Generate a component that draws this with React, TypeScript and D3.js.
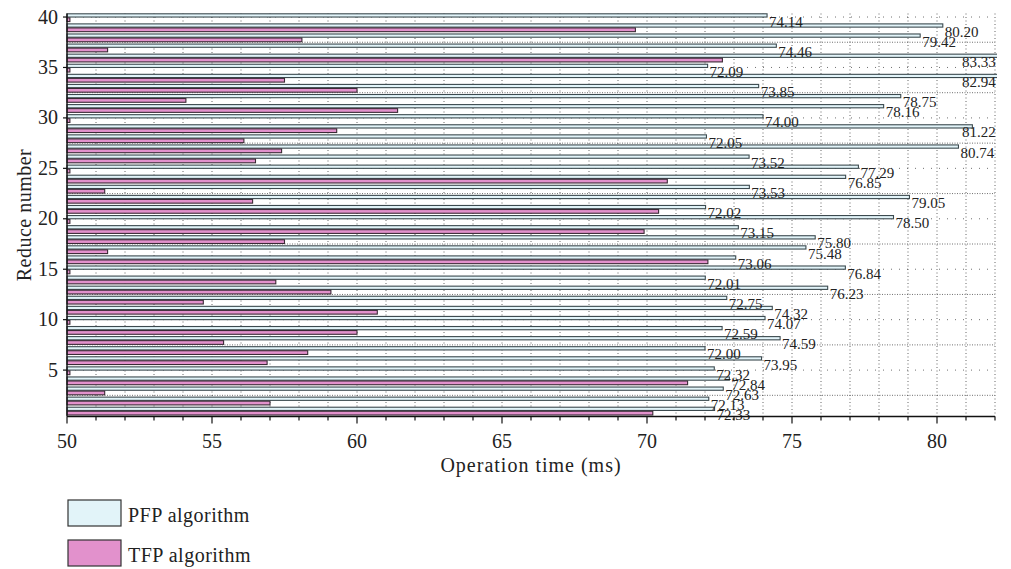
import React from "react";
import * as d3 from "d3";

const reduceNumbers: number[] = d3.range(1, 41);
const pfpValues: number[] = [
  72.33, 72.13, 72.63, 72.84, 72.32, 73.95, 72.0, 74.59, 72.59, 74.07,
  74.32, 72.75, 76.23, 72.01, 76.84, 73.06, 75.48, 75.8, 73.15, 78.5,
  72.02, 79.05, 73.53, 76.85, 77.29, 73.52, 80.74, 72.05, 81.22, 74.0,
  78.16, 78.75, 73.85, 82.94, 72.09, 83.33, 74.46, 79.42, 80.2, 74.14,
];
const tfpValues: number[] = [
  70.2, 57.0, 51.3, 71.4, 50.1, 56.9, 58.3, 55.4, 60.0, 50.1,
  60.7, 54.7, 59.1, 57.2, 50.1, 72.1, 51.4, 57.5, 69.9, 50.1,
  70.4, 56.4, 51.3, 70.7, 50.1, 56.5, 57.4, 56.1, 59.3, 50.1,
  61.4, 54.1, 60.0, 57.5, 50.1, 72.6, 51.4, 58.1, 69.6, 50.1,
];
const xTicks: number[] = [50, 55, 60, 65, 70, 75, 80];
const yTicks: number[] = [5, 10, 15, 20, 25, 30, 35, 40];
const seriesNames: string[] = ["PFP algorithm", "TFP algorithm"];
const seriesColors: string[] = ["#e2f4f9", "#e291cc"];

const FONT = "'Liberation Serif', 'Times New Roman', serif";

export default function App() {
  const left = 67;
  const right = 995;
  const top = 13.5;
  const bottom = 416.5;
  const x = d3.scaleLinear().domain([50, 82]).range([left, right]);
  const y = d3.scaleLinear().domain([0.4, 40.35]).range([bottom, top]);

  const minor = d3.range(51, 83);
  const hMajor = d3.range(5, 41, 5);
  const hMinor = d3.range(2.5, 40, 5);

  return (
    <svg
      width={1011}
      height={569}
      style={{ position: "absolute", left: 0, top: 0, background: "#fff" }}
      fontFamily={FONT}
    >
      <defs>
        <clipPath id="plotclip">
          <rect x={left - 2} y={0} width={right - left + 4} height={bottom + 1} />
        </clipPath>
      </defs>
      {/* grid */}
      <g stroke="#333" strokeWidth={1} fill="none">
        {minor.map((v) => (
          <line key={"gv" + v} x1={x(v)} x2={x(v)} y1={top} y2={bottom} strokeDasharray="1,2.5" opacity={0.75} />
        ))}
        {hMajor.map((v) => (
          <line key={"gh" + v} x1={left} x2={right} y1={y(v)} y2={y(v)} strokeDasharray="1,7" opacity={0.7} />
        ))}
        {hMinor.map((v) => (
          <line key={"gm" + v} x1={left} x2={right} y1={y(v)} y2={y(v)} strokeDasharray="1,1.5" opacity={0.7} />
        ))}
      </g>
      {/* bars */}
      <g clipPath="url(#plotclip)">
        {reduceNumbers.map((k, i) => (
          <g key={"b" + k}>
            <rect
              x={x(50)}
              y={y(k + 0.32)}
              width={Math.max(0, x(pfpValues[i]) - x(50))}
              height={y(k) - y(k + 0.32)}
              fill={seriesColors[0]}
              stroke="#3c4a4f"
              strokeWidth={1.1}
            />
            <rect
              x={x(50)}
              y={y(k - 0.08)}
              width={Math.max(0, x(tfpValues[i]) - x(50))}
              height={y(k - 0.45) - y(k - 0.08)}
              fill={seriesColors[1]}
              stroke="#3a2a35"
              strokeWidth={1.1}
            />
          </g>
        ))}
      </g>
      {/* value labels */}
      <g fontSize={15} fill="#222">
        {reduceNumbers.map((k, i) => (
          <text key={"l" + k} x={Math.min(x(pfpValues[i]) + 2, 962)} y={y(k) + 9.5}>
            {pfpValues[i].toFixed(2)}
          </text>
        ))}
      </g>
      {/* axes */}
      <line x1={left} x2={right} y1={bottom} y2={bottom} stroke="#111" strokeWidth={1.4} />
      <line x1={left} x2={left} y1={top} y2={bottom} stroke="#111" strokeWidth={1.4} />
      <g stroke="#111" strokeWidth={1.2}>
        {d3.range(50, 83).map((v) => (
          <line key={"xt" + v} x1={x(v)} x2={x(v)} y1={bottom} y2={bottom + (v % 5 === 0 ? 7 : 4)} />
        ))}
        {yTicks.map((v) => (
          <line key={"yt" + v} x1={left - 4} x2={left} y1={y(v)} y2={y(v)} />
        ))}
      </g>
      <g fontSize={20} fill="#222">
        {xTicks.map((v) => (
          <text key={"xl" + v} x={x(v)} y={448} textAnchor="middle">
            {v}
          </text>
        ))}
        {yTicks.map((v) => (
          <text key={"yl" + v} x={58} y={y(v) + 6.5} textAnchor="end">
            {v}
          </text>
        ))}
        <text x={(left + right) / 2} y={472} textAnchor="middle" letterSpacing={1}>
          Operation time (ms)
        </text>
        <text
          transform={`translate(31,${(top + bottom) / 2}) rotate(-90)`}
          textAnchor="middle"
          letterSpacing={0.5}
        >
          Reduce number
        </text>
      </g>
      {/* legend */}
      <g fontSize={20} fill="#222">
        {seriesNames.map((name, i) => (
          <g key={name} transform={`translate(68,${500 + i * 40})`}>
            <rect x={0} y={0} width={53} height={26} fill={seriesColors[i]} stroke="#333" strokeWidth={1.2} />
            <text x={60} y={22} letterSpacing={0.5}>
              {name}
            </text>
          </g>
        ))}
      </g>
    </svg>
  );
}
